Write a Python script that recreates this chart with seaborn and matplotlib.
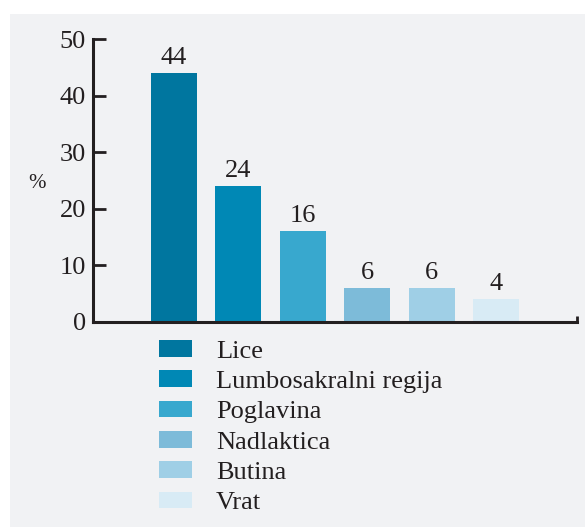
import matplotlib
matplotlib.use('Agg')
import matplotlib.pyplot as plt
import seaborn as sns
import pandas as pd
from matplotlib.patches import Rectangle, Patch

categories = ['Lice', 'Lumbosakralni regija', 'Poglavina', 'Nadlaktica', 'Butina', 'Vrat']
values = [44, 24, 16, 6, 6, 4]
colors = ['#00769f', '#0088b5', '#38a8ce', '#7dbbd9', '#9fcfe6', '#d8ebf5']
y_ticks = [0, 10, 20, 30, 40, 50]
y_label = '%'

sns.set_theme(style='white')
plt.rcParams['font.family'] = ['Liberation Serif', 'DejaVu Serif']
plt.rcParams['text.color'] = '#231f20'

W, H = 585, 527
fig = plt.figure(figsize=(W / 100, H / 100), dpi=100)
fig.patch.set_facecolor('white')
fig.add_artist(Rectangle((10 / W, 0), 1 - 10 / W, 1 - 14 / H, transform=fig.transFigure,
                         facecolor='#f1f2f4', edgecolor='none', zorder=0))

ax = fig.add_axes([93 / W, (H - 322) / H, 484 / W, 283 / H])
ax.set_facecolor('none')

df = pd.DataFrame({'cat': categories, 'val': values})
sns.barplot(data=df, x='cat', y='val', hue='cat', palette=colors, width=0.714,
            saturation=1, legend=False, ax=ax, linewidth=0, edgecolor='none')

for cont in ax.containers:
    ax.bar_label(cont, padding=3, fontsize=19, color='#231f20')

xmax = 6.258
ax.set_xlim(-1.258, xmax)
ax.set_ylim(0, 50)
ax.set_yticks(y_ticks)
ax.set_yticklabels([str(t) for t in y_ticks])
ax.set_xticks([xmax])
ax.set_xticklabels([''])
ax.set_xlabel('')

ax.set_ylabel(y_label, rotation=0, fontsize=15, color='#231f20', ha='center', va='center')
ax.yaxis.set_label_coords((37 - 93) / 484, 0.49)

for s in ['top', 'right']:
    ax.spines[s].set_visible(False)
for s in ['left', 'bottom']:
    ax.spines[s].set_linewidth(2.2)
    ax.spines[s].set_color('#231f20')

ax.tick_params(axis='y', direction='in', length=9, width=2, color='#231f20',
               labelsize=19, labelcolor='#231f20', pad=5, left=True)
ax.tick_params(axis='x', direction='in', length=4.5, width=2, color='#231f20', bottom=True)

handles = [Patch(facecolor=c, edgecolor='none') for c in colors]
fig.legend(handles, categories, loc='upper left',
           bbox_to_anchor=(159 / W, 1 - 340 / H), frameon=False,
           fontsize=19, borderpad=0, borderaxespad=0,
           handlelength=1.25, handleheight=0.6, handletextpad=0.91,
           labelspacing=0.29, labelcolor='#231f20')

fig.savefig('out.png', dpi=100, facecolor='white')
